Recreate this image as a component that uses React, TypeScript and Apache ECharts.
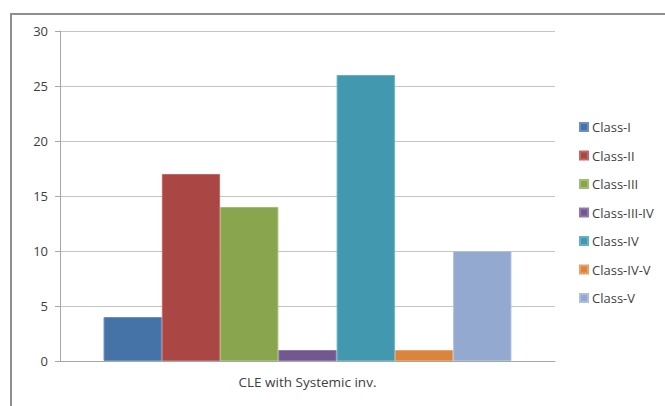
import React, { useEffect, useRef } from "react";
import * as echarts from "echarts";

const categories = ["CLE with Systemic inv."];
const seriesNames = ["Class-I", "Class-II", "Class-III", "Class-III-IV", "Class-IV", "Class-IV-V", "Class-V"];
const seriesValues = [4, 17, 14, 1, 26, 1, 10];
const seriesColors = ["#4572A7", "#AA4643", "#89A54E", "#71588F", "#4198AF", "#DB843D", "#93A9CF"];
const borderColors = ["#6a8fc0", "#c06a67", "#a3bd70", "#8f78ab", "#64b2c6", "#eaa06a", "#aebfdd"];
const yTicks = [0, 5, 10, 15, 20, 25, 30];

const FONT = "'Open Sans', 'Noto Sans', sans-serif";

export default function App() {
  const ref = useRef<HTMLDivElement>(null);

  useEffect(() => {
    if (!ref.current) return;
    const chart = echarts.init(ref.current, null, { renderer: "svg" });
    chart.setOption({
      animation: false,
      backgroundColor: "#ffffff",
      grid: { left: 60, top: 31, right: 110, bottom: 45, containLabel: false },
      legend: {
        orient: "vertical",
        left: 574,
        top: 114,
        itemWidth: 8,
        itemHeight: 8,
        itemGap: 12.5,
        icon: "rect",
        data: seriesNames,
        textStyle: { fontFamily: FONT, fontSize: 13, color: "#404040", lineHeight: 16, padding: [0, 0, 0, -1] },
      },
      xAxis: {
        type: "category",
        data: categories,
        axisLine: { lineStyle: { color: "#a6a6a6", width: 1 } },
        axisTick: { show: false },
        axisLabel: { fontFamily: FONT, fontSize: 13.5, color: "#404040", margin: 14 },
      },
      yAxis: {
        type: "value",
        min: yTicks[0],
        max: yTicks[yTicks.length - 1],
        interval: 5,
        axisLine: { show: true, lineStyle: { color: "#a6a6a6", width: 1 } },
        axisTick: { show: true, length: 5, lineStyle: { color: "#a6a6a6" } },
        axisLabel: { fontFamily: FONT, fontSize: 13, color: "#404040", margin: 12 },
        splitLine: { lineStyle: { color: "#c4c4c4", width: 1 } },
      },
      series: seriesNames.map((name, i) => ({
        name,
        type: "bar",
        data: [seriesValues[i]],
        barGap: "0%",
        barCategoryGap: "17.6%",
        itemStyle: { color: seriesColors[i], borderColor: borderColors[i], borderWidth: 1 },
      })),
      graphic: [
        {
          type: "rect",
          shape: { x: 11, y: 14, width: 700, height: 500 },
          style: { fill: "none", stroke: "#8f8f8f", lineWidth: 2 },
          silent: true,
        },
      ],
    });
    return () => chart.dispose();
  }, []);

  return (
    <div
      ref={ref}
      style={{ position: "fixed", left: 0, top: 0, width: 665, height: 406 }}
    />
  );
}
